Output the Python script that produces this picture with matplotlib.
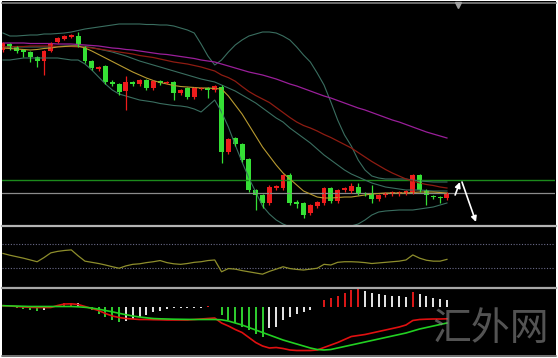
import numpy as np
import matplotlib
matplotlib.use("Agg")
import matplotlib.pyplot as plt
from matplotlib.lines import Line2D

# candle data (price units, up = higher)
opens = [180,186,183,180,178,173,169,179,188,191,
         193,194,183,169,161,164,148,146,139,148,
         146,150,142,149,147,148,137,142,133,141,
         142,140,143,78,92,86,71,40,35,27,
         42,42,55,28,27,17,24,27,42,29,
         40,39,43,37,36,31,35,36,36,37,
         38,55,40,34,33,32]
closes = [187,182,179,178,173,169,179,187,192,194,
          195,185,169,162,163,148,146,138,148,146,
          150,142,149,147,148,137,140,133,142,142,
          140,144,78,91,86,70,40,35,27,43,
          44,55,27,26,15,25,28,42,29,40,
          42,44,37,36,31,35,37,38,38,39,
          55,40,35,33,32,37]
highs = [188.5,187,184,181.5,179,174,180,188,193,195,
         196.5,198,184,170,164,165,150,147,154,149,
         151,151,150,150,149.5,149,141,143,143,143.5,
         143,145,145,92,93,87,72,41,36,45,
         45,56,57,30,28,26,29,43,43,41,
         43,47,47,38,45,36,38,39,39,40,
         56,56,41,35,34,38]
lows = [178.5,180.5,177.5,173,168,163,155,178,187,190,
        192,183,167,160,159.5,146,144,135,120,144,
        144.5,140,140.5,145.5,146,130,135.5,131,131.5,140,
        132,138.5,67,76.5,84,68,38,20,22,25.5,
        40.5,40.5,25,22,12,15.5,22.5,25.5,27,27.5,
        38.5,37.5,35,34.5,27,29.5,33.5,34.5,34.5,35.5,
        36.5,38.5,25,31,27,30.5]

ma_fast = [182,181.5,181,180.5,180,180.5,181.5,182,183,183.5,
           184,184,182,179,175.5,172,168.5,165,161.5,158,
           155,152,149.5,147.5,146,144.5,143.5,143,142.5,142,
           142,141.5,141,134,125,116,105,94,83,74,
           65,57,51,45,39,36,33,32,32,32.5,
           33,33,34,35,36,36.5,37,37,37,37,
           37.5,38,38,38,37.5,37]
ma_mid = [183,183,183.5,183.5,184,184,184,184,183.5,183.5,
          183.5,183,183,182,181,180,179,178,177,176,
          174.5,173.5,172.5,171,169.5,168,167,166,164.5,163,
          161,159,155,152.4,148.8,143.5,138.5,134.5,131,127.5,
          122.5,117.5,112.5,108,104.5,102,99,95.5,92.5,89,
          85.5,82,77.5,73,68.5,64.5,60.5,57,54,51,
          49,47,45.5,44.5,43,42]
ma_slow = [187,187,187,187,186.5,186.5,186.5,186.5,186,186,
           186,185.5,185,184.5,184,183,182,181.5,180.5,180,
           179,178,177,176,175.5,174.5,173.5,172.5,171.5,170,
           169,168,166,164,162,160,158,156.5,155,153,
           151,148.5,146,144,141.5,139,136.5,134,132,129.5,
           127,124.5,122,120,117.5,115,112.5,110,108,105.5,
           103,100.5,98,96,94,92]
bb_upper = [197,194,194,194.5,195,195,196,196,196.5,197,
            198,199.5,201,202,203,204,205,206,206,206,
            206,205.5,205.5,205,205,204,202,200,197,186,
            174,165,170,178,185,190,194,196,198,198,
            197,194,190,183,175,168,157,145,128,110,
            95,84,70,60,54,52,51,51,51,51,
            50,49,48.5,48,48,48]
bb_mid = [183,183,183,183,183,183,183,183,183.5,184,
          184,184,183.5,182.5,181,179.5,178,176,174,171.5,
          169,167,165,163,161,159,157,155,153,151,
          149.5,148,145,142,139,135,131,127,122,117,
          112,108,102,97,92,87,81,75,70,65,
          60,56,53,50,47,45,43,42,41,40,
          40,40,39.5,39,39,39]
bb_lower = [170,170,171,172,172,172,172,172,172,171,
            170,170,166,160,153,146,140,136,134,132,
            130,129,128,126.5,125.5,124.5,124,123,121,118,
            124,130,118,103,85,68,52,38,24,16,
            10,6,3,1,0,-1,-1,-1,0,1,
            2,4,6,10,15,18,19,19.5,20,20,
            20,21,22,23,25,27]

levels = {"resist": 50, "pivot": 37}
# signal arrows: (start index, start price, end index, end price)
arrows = [(66.2, 35, 66.9, 48), (67.2, 48, 69.25, 8)]

osc = [54,51,48.5,46,43,40,47,55,57.5,59,
       60,50,41,39,37,34.5,31.6,29,33,35.6,
       36.5,38.5,40,42,38.5,36.5,35.6,37,39,40,
       42,43,23,28.5,27.5,25,23,21,19,23.7,
       27.5,31.5,28.5,27,26,27.5,29,35.6,34.5,39,
       40,40,39.5,38.5,37,38,39,40,41,43,
       51.5,46,42.5,41,41,44]
osc_levels = [70, 30]

macd_line = [0.8,0.5,0,-0.5,-0.8,-1,-1,-1,1,2.5,
             2.7,2,0,-2,-4,-7,-9.5,-11,-12,-12.5,
             -13,-13,-13.2,-13.3,-13.5,-13.5,-13.5,-13.5,-13,-12.5,
             -12,-11.5,-16.5,-19.5,-23,-26,-31,-36,-39.5,-41.5,
             -41,-42,-43.5,-44,-44,-44,-43.5,-41,-38.5,-36,
             -33,-30,-29,-28,-26.5,-25,-23.5,-22,-20.5,-18.5,
             -14,-13,-12.7,-12.5,-12.5,-12.3]
signal_line = [0.8,0.6,0.4,0.2,0,0,0,0,0,0,
               0,-0.3,-0.8,-1.5,-2.7,-4,-5.3,-6.8,-8.2,-9.5,
               -10.5,-11.3,-12,-12.3,-12.5,-12.7,-12.8,-12.9,-13,-13,
               -13,-13,-13.3,-14.5,-16.5,-18.5,-21,-23.5,-26,-28.5,
               -31,-33.5,-35.5,-37.5,-39.5,-41.5,-43,-43.5,-43,-41.5,
               -40,-38.5,-37,-35.5,-34,-32.5,-31,-29.5,-28,-26.5,
               -24.5,-22.5,-21,-19.5,-18,-16.5]
macd_hist = [0,-0.5,-1,-2,-3,-4,-3,-0.5,0.5,3.5,
             4,4,0.5,-3,-7,-10,-13.5,-15,-14.5,-12.5,
             -10,-8,-5.5,-4,-2,-1.5,-1.5,-1.5,-1.5,-1,
             0.5,-0.5,-8.3,-13.3,-16.7,-20,-23.3,-27.7,-30,-21.7,
             -20,-13.3,-10,-7.7,-5,-3.3,-0.5,6.7,8.3,11,
             14,16.7,17.3,16,14,12.5,11.5,11,10.5,10,
             15,12.5,10.5,9,8,7]

W, H = 558, 358
step = 6.83  # pixels per candle, first candle at x=3

def rect(left, top, right, bottom):
    return [left / W, 1 - bottom / H, (right - left) / W, (bottom - top) / H]

fig = plt.figure(figsize=(W / 100, H / 100), dpi=100, facecolor="white")
bg = fig.add_axes(rect(1.5, 1, 556, 357))
bg.set_facecolor("black")
bg.set_xticks([]); bg.set_yticks([])
for s in bg.spines.values():
    s.set_visible(False)

ax = fig.add_axes(rect(2, 4, 555, 225))
ax2 = fig.add_axes(rect(2, 228, 555, 286))
ax3 = fig.add_axes(rect(2, 289, 555, 354))

x = np.arange(len(opens))
xlim = ((2 - 3) / step, (555 - 3) / step)
for a in (ax, ax2, ax3):
    a.set_facecolor("black")
    a.set_xlim(*xlim)
    a.axis("off")

# main panel
ax.set_ylim(5, 226)
ax.axhline(levels["resist"], color="#1c8a1c", lw=1.0)
ax.axhline(levels["pivot"], color="#8c8c8c", lw=0.9)
ax.plot(x, bb_upper, color="#3a6e60", lw=0.8)
ax.plot(x, bb_mid, color="#3a6e60", lw=0.8)
ax.plot(x, bb_lower, color="#3a6e60", lw=0.8)
ax.plot(x, ma_slow, color="#9a1f9a", lw=0.9)
ax.plot(x, ma_mid, color="#8e1c12", lw=0.9)
ax.plot(x, ma_fast, color="#b89a30", lw=0.8)

o = np.array(opens, float); c = np.array(closes, float)
cols = np.where(c > o, "#ee1c1c", "#35e035")
ax.vlines(x, lows, highs, colors=cols, lw=0.9)
body = np.where(np.abs(c - o) < 1, np.sign(c - o + 1e-9) * 1.2, c - o)
ax.bar(x, body, bottom=o, width=0.72, color=cols, linewidth=0)

for x0, y0, x1, y1 in arrows:
    ax.annotate("", xy=(x1, y1), xytext=(x0, y0),
                arrowprops=dict(arrowstyle="-|>", color="white", lw=1.2,
                                mutation_scale=8, shrinkA=0, shrinkB=0))

# oscillator panel
ax2.set_ylim(-1, 97)
for lv in osc_levels:
    ax2.axhline(lv, color="#6a6a88", lw=0.8, ls=(0, (1, 1.5)))
ax2.plot(x, osc, color="#8e8e2c", lw=0.9)

# macd panel
ax3.set_ylim(-47.5, 17.5)
h = np.array(macd_hist, float)
prev = np.concatenate([[0], h[:-1]])
hcol = np.where(h >= 0, np.where(h > prev, "#e01818", "#e8e8e8"),
                np.where(h < prev, "#30d030", "#e8e8e8"))
ax3.vlines(x, 0, h, colors=hcol, lw=1.4)
ax3.plot(x, macd_line, color="#e01010", lw=1.2)
ax3.plot(x, signal_line, color="#22d022", lw=1.2)

# separators and frame lines
def hline(ypix, color, lw):
    fig.add_artist(Line2D([1.5 / W, 556 / W], [1 - ypix / H] * 2,
                          color=color, lw=lw, transform=fig.transFigure))

hline(2.5, "#808080", 1.2)
hline(226.5, "#b4b4b4", 1.6)
hline(287.5, "#a8a8a8", 1.6)
hline(355.5, "#8a8a8a", 1.2)
fig.add_artist(Line2D([458 / W], [1 - 5 / H], marker="v", ms=4, color="#a0a0a0",
                      transform=fig.transFigure))

fig.text(491 / W, 1 - 329 / H, "汇外网", color="#8c8c8c", alpha=0.6,
         fontsize=28, ha="center", va="center",
         family=["Noto Sans CJK SC", "DejaVu Sans"], fontweight="light")

fig.savefig("out.png", dpi=100, facecolor=fig.get_facecolor())
